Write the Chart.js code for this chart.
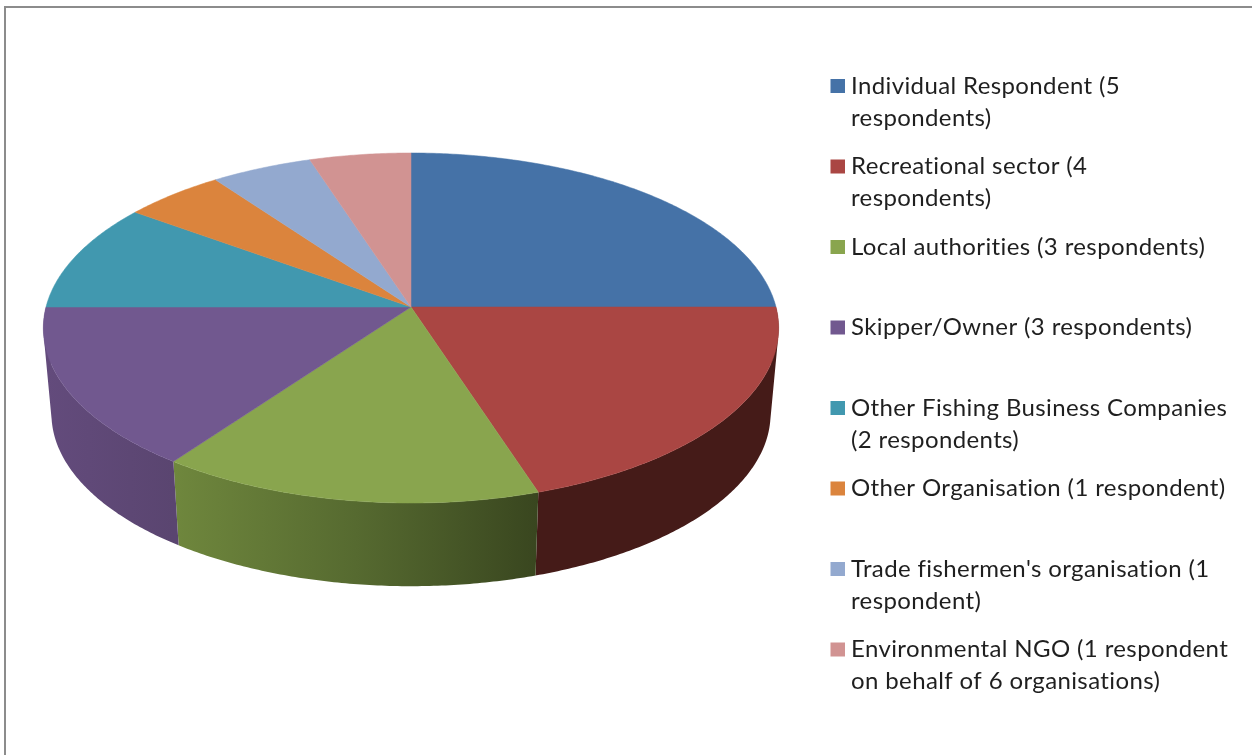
<!DOCTYPE html>
<html>
<head>
<meta charset="utf-8">
<title>Respondents by type</title>
<script src="https://cdn.jsdelivr.net/npm/chart.js@4"></script>
<style>
  html, body { margin: 0; background: #fff; overflow: hidden; }
  #wrap { position: relative; width: 1252px; height: 755px; }
  #frame { position: absolute; left: 4px; top: 6px; right: 0; bottom: 0; border-left: 2px solid #8c8c8c; border-top: 2px solid #8c8c8c; }
  canvas { position: absolute; left: 0; top: 0; }
</style>
</head>
<body>
<div id="wrap">
  <div id="frame"></div>
  <canvas id="chart" width="1252" height="755"></canvas>
</div>
<script>
const categories = [
  ["Individual Respondent (5", "respondents)"],
  ["Recreational sector (4", "respondents)"],
  ["Local authorities (3 respondents)"],
  ["Skipper/Owner (3 respondents)"],
  ["Other Fishing Business Companies", "(2 respondents)"],
  ["Other Organisation (1 respondent)"],
  ["Trade fishermen's organisation (1", "respondent)"],
  ["Environmental NGO (1 respondent", "on behalf of 6 organisations)"],
];
const respondents = [5, 4, 3, 3, 2, 1, 1, 1];
const sliceColors = ["#4572A7", "#AA4643", "#89A54E", "#71588F", "#4198AF", "#DB843D", "#93A9CF", "#D19392"];
// side wall shading per slice, left to right on screen
const wallShades = [
  ["#2a4565", "#2a4565"],
  ["#451b18", "#451b18"],
  ["#6f873d", "#566a30", "#39461f"],
  ["#634b7c", "#5a4570"],
  ["#275c6a", "#275c6a"],
  ["#854f24", "#854f24"],
  ["#59667d", "#59667d"],
  ["#7f5958", "#7f5958"],
];

// perspective of the disc, relative to its radius
const TILT = { lift: -58, squash: 0.4726, persp: 0.12 };
const BASE = { drop: 86, scale: 0.978, squash: 0.4658, persp: 0.12 };

function project(arc, theta, plane, offset) {
  const u = Math.cos(theta), v = Math.sin(theta);
  const k = 1 / (1 - plane.persp * v);
  return {
    x: arc.x + arc.outerRadius * (plane.scale || 1) * u * k,
    y: arc.y + TILT.lift + offset + arc.outerRadius * plane.squash * v * k,
  };
}

function signedArea(p) {
  let sum = 0;
  p.forEach((q, i) => {
    const r = p[(i + 1) % p.length];
    sum += q.x * r.y - r.x * q.y;
  });
  return sum;
}

const pie3d = {
  id: "pie3d",
  beforeDatasetDraw(chart, args) {
    const ctx = chart.ctx;
    const arcs = args.meta.data;
    ctx.save();
    // front wall: only the part of each slice facing the viewer. The quads share
    // one path and are all wound the same way, they flip near the silhouette
    // and would cancel out otherwise
    arcs.forEach((arc, i) => {
      const from = Math.max(arc.startAngle, 0);
      const to = Math.min(arc.endAngle, Math.PI);
      if (to <= from) return;
      const a = project(arc, from, TILT, 0), b = project(arc, to, TILT, 0);
      const grad = ctx.createLinearGradient(Math.min(a.x, b.x), 0, Math.max(a.x, b.x), 0);
      wallShades[i].forEach((c, n) => grad.addColorStop(n / (wallShades[i].length - 1), c));
      const steps = Math.ceil((to - from) / 0.01);
      ctx.beginPath();
      for (let s = 0; s < steps; s++) {
        const t0 = from + (to - from) * s / steps;
        const t1 = from + (to - from) * (s + 1) / steps;
        const p = [project(arc, t0, TILT, 0), project(arc, t1, TILT, 0), project(arc, t1, BASE, BASE.drop), project(arc, t0, BASE, BASE.drop)];
        if (signedArea(p) < 0) p.reverse();
        ctx.moveTo(p[0].x, p[0].y);
        p.slice(1).forEach((q) => ctx.lineTo(q.x, q.y));
        ctx.closePath();
      }
      ctx.fillStyle = grad;
      ctx.fill();
    });
    // top face
    arcs.forEach((arc, i) => {
      const steps = Math.ceil((arc.endAngle - arc.startAngle) / 0.01);
      ctx.beginPath();
      ctx.moveTo(arc.x, arc.y + TILT.lift);
      for (let s = 0; s <= steps; s++) {
        const p = project(arc, arc.startAngle + (arc.endAngle - arc.startAngle) * s / steps, TILT, 0);
        ctx.lineTo(p.x, p.y);
      }
      ctx.closePath();
      ctx.fillStyle = sliceColors[i];
      ctx.strokeStyle = sliceColors[i];
      ctx.lineWidth = 0.5;
      ctx.fill();
      ctx.stroke();
    });
    ctx.restore();
    return false;
  },
};

// legend rows sit on a fixed pitch, with wrapped labels
const sideLegend = {
  id: "sideLegend",
  afterDraw(chart) {
    const ctx = chart.ctx;
    ctx.save();
    ctx.font = '24px Lato, "Open Sans", sans-serif';
    ctx.letterSpacing = "0.38px";
    ctx.textBaseline = "alphabetic";
    ctx.textAlign = "left";
    categories.forEach((lines, i) => {
      const y = 79 + i * 80.5;
      ctx.fillStyle = sliceColors[i];
      ctx.fillRect(830.5, y, 14.5, 14);
      ctx.fillStyle = "#1f1f1f";
      lines.forEach((line, n) => ctx.fillText(line, 851, Math.floor(y + 15) + n * 32));
    });
    ctx.restore();
  },
};

new Chart(document.getElementById("chart"), {
  type: "pie",
  data: {
    labels: categories.map((lines) => lines.join(" ")),
    datasets: [{ data: respondents, backgroundColor: sliceColors, borderWidth: 0 }],
  },
  options: {
    responsive: false,
    animation: false,
    layout: { padding: { left: 46, right: 476, top: 0, bottom: 25 } },
    plugins: { legend: { display: false }, tooltip: { enabled: false } },
  },
  plugins: [pie3d, sideLegend],
});
</script>
</body>
</html>
